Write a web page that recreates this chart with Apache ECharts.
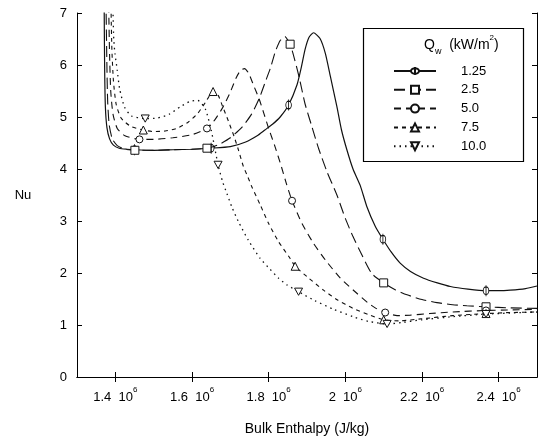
<!DOCTYPE html>
<html><head><meta charset="utf-8">
<script src="https://cdn.jsdelivr.net/npm/echarts@6/dist/echarts.min.js"></script>
<style>html,body{margin:0;padding:0;background:#fff}#c{width:538px;height:447px}</style>
</head><body><div id="c"></div>
<script>
// Bulk enthalpy in units of 10^6 J/kg ; Nu ; third element 1 = point carries a marker
const seriesNames = ['1.25', '2.5', '5.0', '7.5', '10.0'];
const xTickValues = [1.4, 1.6, 1.8, 2.0, 2.2, 2.4];
const xTickLabels = ['1.4', '1.6', '1.8', '2', '2.2', '2.4'];
const yTickValues = [0, 1, 2, 3, 4, 5, 6, 7];

const q125 = [[1.370,7.6],[1.371,7.0],[1.372,6.0],[1.374,5.2],[1.378,4.8],[1.385,4.58],[1.395,4.46],[1.41,4.40],[1.43,4.38],[1.45,4.37,1],[1.50,4.36],[1.55,4.37],[1.60,4.38],[1.65,4.40,1],[1.70,4.43],[1.74,4.52],[1.77,4.64],[1.79,4.75],[1.81,4.86],[1.83,5.0],[1.852,5.23,1],[1.874,5.62],[1.885,5.95],[1.895,6.30],[1.905,6.53],[1.917,6.62],[1.934,6.51],[1.948,6.22],[1.961,5.78],[1.978,5.20],[1.99,4.75],[2.004,4.37],[2.02,4.0],[2.039,3.68],[2.056,3.28],[2.078,2.90],[2.098,2.65,1],[2.12,2.40],[2.143,2.19],[2.17,2.03],[2.204,1.90],[2.24,1.81],[2.274,1.74],[2.32,1.69],[2.367,1.66,1],[2.40,1.66],[2.43,1.67],[2.47,1.70],[2.50,1.75]];
const q25 = [[1.375,7.6],[1.376,7.0],[1.378,6.0],[1.380,5.3],[1.384,4.85],[1.392,4.58],[1.405,4.45],[1.425,4.38],[1.451,4.36,1],[1.50,4.36],[1.55,4.37],[1.60,4.38],[1.639,4.40,1],[1.67,4.47],[1.70,4.60],[1.73,4.80],[1.755,5.05],[1.775,5.35],[1.79,5.65],[1.805,5.95],[1.817,6.25],[1.83,6.47],[1.842,6.55],[1.856,6.40,1],[1.868,6.10],[1.88,5.75],[1.895,5.25],[1.913,4.81],[1.93,4.40],[1.952,3.95],[1.978,3.50],[2.0,3.05],[2.02,2.70],[2.043,2.35],[2.069,1.99],[2.10,1.81,1],[2.13,1.68],[2.161,1.58],[2.20,1.49],[2.239,1.43],[2.28,1.39],[2.317,1.37],[2.367,1.35,1],[2.43,1.33],[2.50,1.32]];
const q50 = [[1.382,7.6],[1.383,7.0],[1.385,6.2],[1.388,5.5],[1.394,5.05],[1.405,4.78],[1.425,4.64],[1.463,4.57,1],[1.50,4.57],[1.55,4.60],[1.60,4.66],[1.639,4.78,1],[1.66,4.95],[1.68,5.18],[1.70,5.48],[1.715,5.75],[1.727,5.90],[1.737,5.93],[1.748,5.84],[1.76,5.62],[1.775,5.35],[1.787,5.08],[1.80,4.78],[1.817,4.42],[1.833,4.05],[1.847,3.70],[1.861,3.39,1],[1.887,2.95],[1.917,2.57],[1.948,2.25],[1.987,1.90],[2.03,1.61],[2.06,1.42],[2.08,1.32],[2.104,1.24,1],[2.135,1.18],[2.17,1.19],[2.22,1.22],[2.28,1.25],[2.367,1.28,1],[2.43,1.29],[2.50,1.30]];
const q75 = [[1.388,7.6],[1.389,7.0],[1.391,6.3],[1.395,5.7],[1.402,5.25],[1.415,4.98],[1.44,4.82],[1.473,4.75,1],[1.50,4.72],[1.53,4.73],[1.56,4.78],[1.59,4.90],[1.615,5.07],[1.635,5.28],[1.655,5.49,1],[1.668,5.42],[1.68,5.20],[1.695,4.92],[1.71,4.62],[1.721,4.37],[1.734,4.05],[1.745,3.86],[1.756,3.66],[1.778,3.31],[1.80,2.95],[1.826,2.60],[1.856,2.28],[1.869,2.13,1],[1.90,1.93],[1.943,1.67],[1.98,1.48],[2.02,1.32],[2.06,1.20],[2.10,1.10,1],[2.14,1.08],[2.2,1.12],[2.28,1.18],[2.367,1.22,1],[2.43,1.24],[2.50,1.25]];
const q100 = [[1.393,7.6],[1.394,7.0],[1.396,6.48],[1.399,6.22],[1.405,5.90],[1.411,5.55],[1.424,5.19],[1.442,5.02],[1.478,4.97,1],[1.51,4.98],[1.54,5.05],[1.57,5.20],[1.595,5.30],[1.615,5.32],[1.635,5.15],[1.65,4.75],[1.668,4.08,1],[1.68,3.75],[1.691,3.53],[1.705,3.25],[1.721,2.99],[1.747,2.63],[1.778,2.28],[1.804,2.07],[1.826,1.90],[1.848,1.77],[1.878,1.64,1],[1.92,1.47],[1.97,1.30],[2.02,1.16],[2.06,1.07],[2.109,1.02,1],[2.15,1.05],[2.2,1.10],[2.28,1.16],[2.367,1.21,1],[2.43,1.23],[2.50,1.25]];

const FONT = '"Liberation Sans", Arial, Helvetica, sans-serif';
const thetaPath = 'path://M1.5,5 A3.5,3.5 0 1,0 8.5,5 A3.5,3.5 0 1,0 1.5,5 Z M5,0 L5,10';
const downTri = 'path://M0,0 L10,0 L5,9 Z';

const styles = [
  {data: q125, dash: 'solid', symbol: thetaPath, size: [8, 11], width: 1.2},
  {data: q25, dash: [11, 5], symbol: 'rect', size: 8, width: 1.1},
  {data: q50, dash: [7, 5], symbol: 'circle', size: 7, width: 1.1},
  {data: q75, dash: [4, 4], symbol: 'triangle', size: 8, width: 1.1},
  {data: q100, dash: [1.5, 4], symbol: downTri, size: 8, width: 1.3}
];

const series = styles.map((s, i) => ({
  type: 'line',
  name: seriesNames[i],
  data: s.data.map(p => p[2] ? {value: [p[0], p[1]]} : {value: [p[0], p[1]], symbol: 'none'}),
  symbol: s.symbol,
  symbolSize: s.size,
  symbolKeepAspect: true,
  showSymbol: true,
  showAllSymbol: true,
  smooth: 0.2,
  clip: true,
  lineStyle: {color: '#111', width: s.width, type: s.dash},
  itemStyle: {color: '#fff', borderColor: '#111', borderWidth: 1},
  emphasis: {disabled: true},
  z: 3 + i
}));

const chart = echarts.init(document.getElementById('c'), null, {renderer: 'canvas'});
chart.setOption({
  animation: false,
  backgroundColor: '#fff',
  grid: {left: 77, right: 1, top: 13, bottom: 70, containLabel: false},
  xAxis: [{
    type: 'value', min: 1.3, max: 2.5, position: 'bottom',
    axisLine: {show: true, lineStyle: {color: '#000', width: 1}},
    axisTick: {show: true, inside: true, length: 5, customValues: xTickValues, lineStyle: {color: '#000'}},
    axisLabel: {
      customValues: xTickValues, margin: 9,
      formatter: v => {
        const k = xTickValues.findIndex(t => Math.abs(t - v) < 1e-6);
        return '{n|' + xTickLabels[k] + '  10}{s|6}';
      },
      rich: {
        n: {fontFamily: FONT, fontSize: 13, color: '#000', lineHeight: 18, verticalAlign: 'bottom'},
        s: {fontFamily: FONT, fontSize: 8, color: '#000', lineHeight: 18, verticalAlign: 'top'}
      }
    },
    splitLine: {show: false},
    name: 'Bulk Enthalpy (J/kg)', nameLocation: 'middle', nameGap: 45,
    nameTextStyle: {fontFamily: FONT, fontSize: 14, color: '#000'}
  }, {
    type: 'value', min: 1.3, max: 2.5, position: 'top',
    axisLine: {show: true, lineStyle: {color: '#000', width: 1}},
    axisTick: {show: true, inside: true, length: 5, customValues: xTickValues, lineStyle: {color: '#000'}},
    axisLabel: {show: false}, splitLine: {show: false}
  }],
  yAxis: [{
    type: 'value', min: 0, max: 7, interval: 1, position: 'left',
    axisLine: {show: true, lineStyle: {color: '#000', width: 1}},
    axisTick: {show: true, inside: true, length: 5, lineStyle: {color: '#000'}},
    axisLabel: {fontFamily: FONT, fontSize: 13, color: '#000', margin: 10},
    splitLine: {show: false},
    name: 'Nu', nameLocation: 'middle', nameRotate: 0, nameGap: 54,
    nameTextStyle: {fontFamily: FONT, fontSize: 13, color: '#000', align: 'center', verticalAlign: 'middle'}
  }, {
    type: 'value', min: 0, max: 7, interval: 1, position: 'right',
    axisLine: {show: true, lineStyle: {color: '#000', width: 1}},
    axisTick: {show: true, inside: true, length: 5, lineStyle: {color: '#000'}},
    axisLabel: {show: false}, splitLine: {show: false}
  }],
  legend: {
    orient: 'vertical', left: 388, top: 59,
    itemWidth: 42, itemHeight: 10, itemGap: 4.8,
    data: seriesNames,
    textStyle: {fontFamily: FONT, fontSize: 13, color: '#000', lineHeight: 14, padding: [0, 0, 0, 20]},
    selectedMode: false
  },
  graphic: [
    {type: 'rect', z: 1, shape: {x: 363.5, y: 28.5, width: 160, height: 133},
     style: {fill: '#fff', stroke: '#000', lineWidth: 1.2}},
    {type: 'text', z: 10, x: 424, y: 45,
     style: {
       text: '{q|Q}{w|w}{t|  (kW/m}{s|2}{t|)}',
       verticalAlign: 'middle', align: 'left',
       rich: {
         q: {fontFamily: FONT, fontSize: 14, fill: '#000', lineHeight: 22, verticalAlign: 'middle'},
         w: {fontFamily: FONT, fontSize: 9, fill: '#000', lineHeight: 22, verticalAlign: 'bottom'},
         t: {fontFamily: FONT, fontSize: 14, fill: '#000', lineHeight: 22, verticalAlign: 'middle'},
         s: {fontFamily: FONT, fontSize: 8, fill: '#000', lineHeight: 22, verticalAlign: 'top'}
       }
     }}
  ],
  series: series
});
</script></body></html>
